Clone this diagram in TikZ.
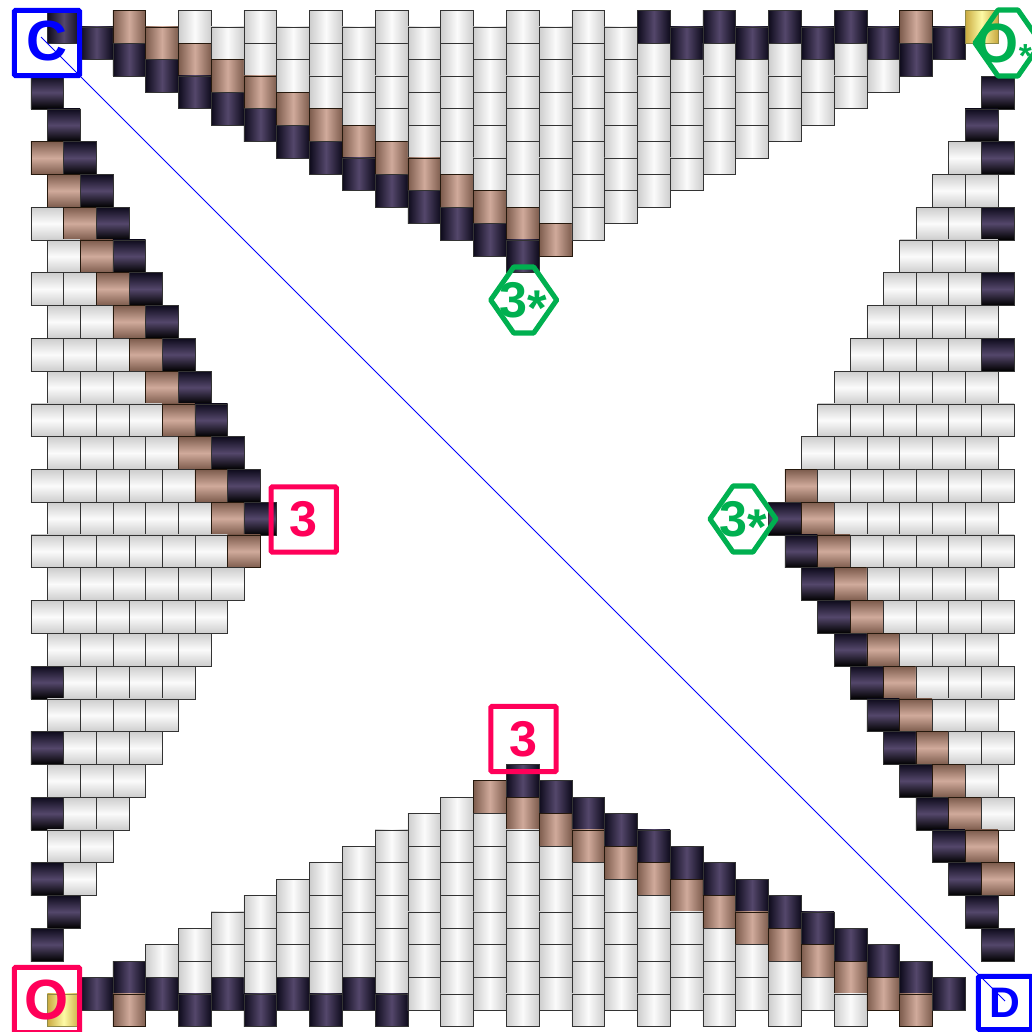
\documentclass[tikz,border=0pt]{standalone}
\usepackage{fontspec}
\setmainfont{Liberation Sans}

\definecolor{beadred}{HTML}{FF0059}
\definecolor{beadblue}{HTML}{0000FF}
\definecolor{beadgreen}{HTML}{00B050}
\definecolor{darkedge}{HTML}{0E0B1C}
\definecolor{darkmid}{HTML}{54476B}
\definecolor{brownedge}{HTML}{7D5C4D}
\definecolor{brownmid}{HTML}{D0AA9B}
\definecolor{goldedge}{HTML}{C9A93F}
\definecolor{goldmid}{HTML}{FDFAA5}
\definecolor{whiteedge}{HTML}{CDCDCD}
\definecolor{whitemid}{HTML}{FBFBFB}

\tikzset{
	colw/.style={draw=black!80, left color=whiteedge, right color=whiteedge, middle color=whitemid},
	cold/.style={draw=black!80, left color=darkedge, right color=darkedge, middle color=darkmid},
	colb/.style={draw=black!80!brown, left color=brownedge, right color=brownedge, middle color=brownmid},
	colg/.style={draw=black!50!yellow, left color=goldedge, right color=goldedge, middle color=goldmid},
	roww/.style={draw=black!80, top color=whiteedge, bottom color=whiteedge, middle color=whitemid},
	rowd/.style={draw=black!80, top color=darkedge, bottom color=black, middle color=darkmid},
	rowb/.style={draw=black!80!brown, top color=brownedge, bottom color=brownedge, middle color=brownmid},
	markbox/.style={draw, line width=3.8pt, rounded corners=1pt, minimum size=49pt, inner sep=0pt, font=\bfseries\fontsize{37.7pt}{40pt}\selectfont},
	hexline/.style={draw=beadgreen, line width=3.8pt, line join=round},
	hextext/.style={text=beadgreen, inner sep=0pt, font=\bfseries\fontsize{37.7pt}{40pt}\selectfont},
	diagline/.style={draw=beadblue, line width=0.6pt}
}

% k = column, v = half-bead row of the first bead
\newcommand{\colbeads}[3]{\foreach \b [count=\i from 0] in {#3}
	{\draw[col\b] ({47.3+32.78*#1},{10.4+16.39*#2+32.78*\i}) rectangle ++(32.78,32.78);}}
% u = half-bead column of the first bead, n = row
\newcommand{\rowbeads}[3]{\foreach \b [count=\i from 0] in {#3}
	{\draw[row\b] ({30.9+16.39*#1+32.78*\i},{76+32.78*#2}) rectangle ++(32.78,32.78);}}
\newcommand{\hexpath}[2]{\draw[hexline] (#1-33,#2) -- (#1-10,#2-33) -- (#1+10,#2-33) -- (#1+33,#2) -- (#1+10,#2+33) -- (#1-10,#2+33) -- cycle;}
\newcommand{\lowstar}{\smash{\raisebox{-0.17em}{*}}}

\begin{document}
\begin{tikzpicture}[x=0.75pt, y=-0.75pt]
	\useasboundingbox (0,0) rectangle (1032,1032);
	
	% Top triangle
	\colbeads{0}{0}{d}
	\colbeads{1}{1}{d}
	\colbeads{2}{0}{b,d}
	\colbeads{3}{1}{b,d}
	\colbeads{4}{0}{w,b,d}
	\colbeads{5}{1}{w,b,d}
	\colbeads{6}{0}{w,w,b,d}
	\colbeads{7}{1}{w,w,b,d}
	\colbeads{8}{0}{w,w,w,b,d}
	\colbeads{9}{1}{w,w,w,b,d}
	\colbeads{10}{0}{w,w,w,w,b,d}
	\colbeads{11}{1}{w,w,w,w,b,d}
	\colbeads{12}{0}{w,w,w,w,w,b,d}
	\colbeads{13}{1}{w,w,w,w,w,b,d}
	\colbeads{14}{0}{w,w,w,w,w,w,b,d}
	\colbeads{15}{1}{w,w,w,w,w,w,b}
	\colbeads{16}{0}{w,w,w,w,w,w,w}
	\colbeads{17}{1}{w,w,w,w,w,w}
	\colbeads{18}{0}{d,w,w,w,w,w}
	\colbeads{19}{1}{d,w,w,w,w}
	\colbeads{20}{0}{d,w,w,w,w}
	\colbeads{21}{1}{d,w,w,w}
	\colbeads{22}{0}{d,w,w,w}
	\colbeads{23}{1}{d,w,w}
	\colbeads{24}{0}{d,w,w}
	\colbeads{25}{1}{d,w}
	\colbeads{26}{0}{b,d}
	\colbeads{27}{1}{d}
	\colbeads{28}{0}{g}
	
	% Bottom triangle
	\colbeads{0}{60}{g}
	\colbeads{1}{59}{d}
	\colbeads{2}{58}{d,b}
	\colbeads{3}{57}{w,d}
	\colbeads{4}{56}{w,w,d}
	\colbeads{5}{55}{w,w,d}
	\colbeads{6}{54}{w,w,w,d}
	\colbeads{7}{53}{w,w,w,d}
	\colbeads{8}{52}{w,w,w,w,d}
	\colbeads{9}{51}{w,w,w,w,d}
	\colbeads{10}{50}{w,w,w,w,w,d}
	\colbeads{11}{49}{w,w,w,w,w,w}
	\colbeads{12}{48}{w,w,w,w,w,w,w}
	\colbeads{13}{47}{b,w,w,w,w,w,w}
	\colbeads{14}{46}{d,b,w,w,w,w,w,w}
	\colbeads{15}{47}{d,b,w,w,w,w,w}
	\colbeads{16}{48}{d,b,w,w,w,w,w}
	\colbeads{17}{49}{d,b,w,w,w,w}
	\colbeads{18}{50}{d,b,w,w,w,w}
	\colbeads{19}{51}{d,b,w,w,w}
	\colbeads{20}{52}{d,b,w,w,w}
	\colbeads{21}{53}{d,b,w,w}
	\colbeads{22}{54}{d,b,w,w}
	\colbeads{23}{55}{d,b,w}
	\colbeads{24}{56}{d,b,w}
	\colbeads{25}{57}{d,b}
	\colbeads{26}{58}{d,b}
	\colbeads{27}{59}{d}
	
	% Left triangle
	\rowbeads{0}{0}{d}
	\rowbeads{1}{1}{d}
	\rowbeads{0}{2}{b,d}
	\rowbeads{1}{3}{b,d}
	\rowbeads{0}{4}{w,b,d}
	\rowbeads{1}{5}{w,b,d}
	\rowbeads{0}{6}{w,w,b,d}
	\rowbeads{1}{7}{w,w,b,d}
	\rowbeads{0}{8}{w,w,w,b,d}
	\rowbeads{1}{9}{w,w,w,b,d}
	\rowbeads{0}{10}{w,w,w,w,b,d}
	\rowbeads{1}{11}{w,w,w,w,b,d}
	\rowbeads{0}{12}{w,w,w,w,w,b,d}
	\rowbeads{1}{13}{w,w,w,w,w,b,d}
	\rowbeads{0}{14}{w,w,w,w,w,w,b}
	\rowbeads{1}{15}{w,w,w,w,w,w}
	\rowbeads{0}{16}{w,w,w,w,w,w}
	\rowbeads{1}{17}{w,w,w,w,w}
	\rowbeads{0}{18}{d,w,w,w,w}
	\rowbeads{1}{19}{w,w,w,w}
	\rowbeads{0}{20}{d,w,w,w}
	\rowbeads{1}{21}{w,w,w}
	\rowbeads{0}{22}{d,w,w}
	\rowbeads{1}{23}{w,w}
	\rowbeads{0}{24}{d,w}
	\rowbeads{1}{25}{d}
	\rowbeads{0}{26}{d}
	
	% Right triangle
	\rowbeads{58}{0}{d}
	\rowbeads{57}{1}{d}
	\rowbeads{56}{2}{w,d}
	\rowbeads{55}{3}{w,w}
	\rowbeads{54}{4}{w,w,d}
	\rowbeads{53}{5}{w,w,w}
	\rowbeads{52}{6}{w,w,w,d}
	\rowbeads{51}{7}{w,w,w,w}
	\rowbeads{50}{8}{w,w,w,w,d}
	\rowbeads{49}{9}{w,w,w,w,w}
	\rowbeads{48}{10}{w,w,w,w,w,w}
	\rowbeads{47}{11}{w,w,w,w,w,w}
	\rowbeads{46}{12}{b,w,w,w,w,w,w}
	\rowbeads{45}{13}{d,b,w,w,w,w,w}
	\rowbeads{46}{14}{d,b,w,w,w,w,w}
	\rowbeads{47}{15}{d,b,w,w,w,w}
	\rowbeads{48}{16}{d,b,w,w,w,w}
	\rowbeads{49}{17}{d,b,w,w,w}
	\rowbeads{50}{18}{d,b,w,w,w}
	\rowbeads{51}{19}{d,b,w,w}
	\rowbeads{52}{20}{d,b,w,w}
	\rowbeads{53}{21}{d,b,w}
	\rowbeads{54}{22}{d,b,w}
	\rowbeads{55}{23}{d,b}
	\rowbeads{56}{24}{d,b}
	\rowbeads{57}{25}{d}
	\rowbeads{58}{26}{d}
	
	% Diagonal
	\coordinate (diagC) at (41,37);
	\coordinate (diagD) at (1005,1001);
	\draw[diagline] (diagC) -- (diagD);
	
	% Corner marks
	\node[markbox, beadblue, font=\bfseries\fontsize{42.5pt}{44pt}\selectfont] (cornerC) at (47,43) {\raisebox{3pt}{C}};
	\node[markbox, beadred, font=\bfseries\fontsize{42.5pt}{44pt}\selectfont] (cornerO) at (47,1000) {O};
	\node[markbox, beadblue, minimum size=40pt, font=\bfseries\fontsize{32pt}{34pt}\selectfont] (cornerD) at (1005,1003) {D};
	\hexpath{1008}{43}
	\node[hextext, font=\bfseries\fontsize{41.5pt}{44pt}\selectfont, anchor=east] (cornerE) at (1032,43) {O{\fontsize{25pt}{25pt}\selectfont\lowstar}};
	
	% Middle marks
	\node[markbox, beadred] (markLeft) at (303.7,519.5) {3};
	\node[markbox, beadred] (markBottom) at (523.5,739) {3};
	\hexpath{523.7}{300}
	\node[hextext] (markTop) at (523.7,300) {3\lowstar};
	\hexpath{743}{519}
	\node[hextext] (markRight) at (743,519) {3\lowstar};
	
\end{tikzpicture}
\end{document}
